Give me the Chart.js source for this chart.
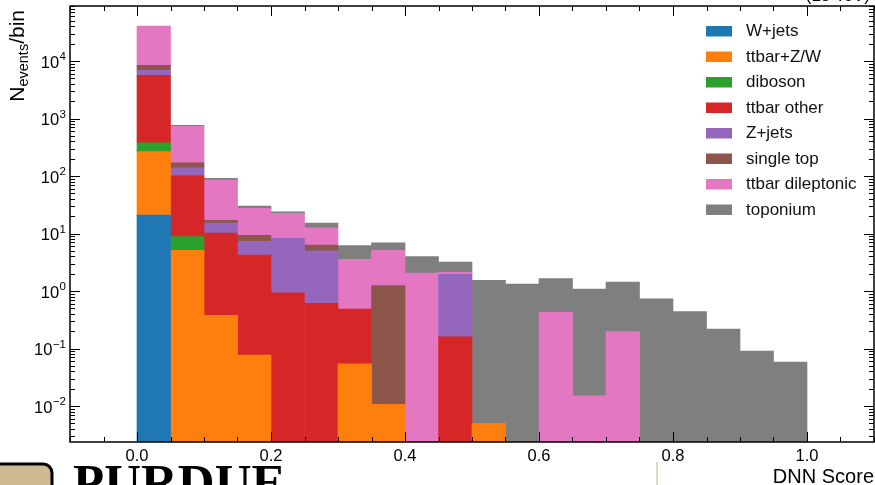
<!DOCTYPE html>
<html><head><meta charset="utf-8">
<script src="https://cdn.jsdelivr.net/npm/chart.js@4/dist/chart.umd.min.js"></script>
<style>html,body{margin:0;padding:0;background:#fff;}#wrap{width:875px;height:485px;position:relative;}</style>
</head><body><div id="wrap"><canvas id="c" width="875" height="485"></canvas></div>
<script>
// ---- data (events per bin, per sample; stacked in this order) ----
const binCenters = [0.025,0.075,0.125,0.175,0.225,0.275,0.325,0.375,0.425,0.475,0.525,0.575,0.625,0.675,0.725,0.775,0.825,0.875,0.925,0.975];
const sampleNames = ['W+jets','ttbar+Z/W','diboson','ttbar other','Z+jets','single top','ttbar dileptonic','toponium'];
const sampleColors = ['#1f77b4','#ff7f0e','#2ca02c','#d62728','#9467bd','#8c564b','#e377c2','#7f7f7f'];
const wJets      = [21,0,0,0,0,0,0,0,0,0,0,0,0,0,0,0,0,0,0,0];
const ttbarZW    = [244,5.1,0.378,0.077,0,0,0.054,0.0107,0,0,0.005,0,0,0,0,0,0,0,0,0];
const diboson    = [114,3.7,0,0,0,0,0,0,0,0,0,0,0,0,0,0,0,0,0,0];
const ttbarOther = [5260,92,9.8,4.15,0.93,0.61,0.43,0,0,0.16,0,0,0,0,0,0,0,0,0,0];
const zJets      = [1250,38,5.0,3.1,7.3,4.4,0,0,0,1.79,0,0,0,0,0,0,0,0,0,0];
const singleTop  = [1520,31,1.8,2.0,0,1.3,0,1.23,0,0,0,0,0,0,0,0,0,0,0,0];
const ttbarDilep = [32200,561,68,18.1,14.2,6.3,3.07,3.86,2.06,0.16,0,0,0.427,0.0151,0.196,0,0,0,0,0];
const toponium   = [0,31,6,2.7,1.3,2.6,2.6,1.8,1.9,1.08,1.53,1.32,1.21,1.065,1.23,0.734,0.437,0.218,0.0905,0.058];
const xTickLabels = ['0.0','0.2','0.4','0.6','0.8','1.0'];
const yTickExponents = [-2,-1,0,1,2,3,4];
const xAxisTitle = 'DNN Score';

const sampleValues = [wJets, ttbarZW, diboson, ttbarOther, zJets, singleTop, ttbarDilep, toponium];
const datasets = sampleValues.map((arr, k) => ({
  label: sampleNames[k],
  backgroundColor: sampleColors[k],
  borderWidth: 0,
  data: binCenters.map((x, i) => ({x: x, y: arr[i] > 0 ? arr[i] : null}))
}));

const FONT = '"Liberation Sans", Arial, Helvetica, sans-serif';

const decorPlugin = {
  id: 'decor',
  beforeDraw(chart) {
    const ctx = chart.ctx;
    ctx.save(); ctx.fillStyle = '#fff'; ctx.fillRect(0, 0, chart.width, chart.height); ctx.restore();
  },
  afterDraw(chart) {
    const ctx = chart.ctx, a = chart.chartArea, xs = chart.scales.x, ys = chart.scales.y;
    ctx.save();
    // frame
    ctx.strokeStyle = '#000'; ctx.lineWidth = 1.5;
    ctx.strokeRect(a.left, a.top, a.right - a.left, a.bottom - a.top);
    // x ticks (inward, top & bottom)
    ctx.lineWidth = 1;
    for (let i = -2; i <= 22; i++) {
      const v = i * 0.05;
      if (v < xs.min - 1e-9 || v > xs.max + 1e-9) continue;
      const px = Math.round(xs.getPixelForValue(v)) + 0.5;
      const len = (i % 4 === 0) ? 10 : 5;
      ctx.beginPath();
      ctx.moveTo(px, a.bottom); ctx.lineTo(px, a.bottom - len);
      ctx.moveTo(px, a.top); ctx.lineTo(px, a.top + len);
      ctx.stroke();
    }
    // y ticks (inward, left & right)
    for (let e = -3; e <= 5; e++) {
      for (let m = 1; m <= 9; m++) {
        const v = m * Math.pow(10, e);
        if (v < ys.min || v > ys.max) continue;
        const py = Math.round(ys.getPixelForValue(v)) + 0.5;
        const len = m === 1 ? 10 : 5;
        ctx.beginPath();
        ctx.moveTo(a.left, py); ctx.lineTo(a.left + len, py);
        ctx.moveTo(a.right, py); ctx.lineTo(a.right - len, py);
        ctx.stroke();
      }
    }
    // y tick labels 10^n
    ctx.fillStyle = '#000';
    yTickExponents.forEach(e => {
      const py = ys.getPixelForValue(Math.pow(10, e));
      const exp = e < 0 ? '\u2212' + (-e) : String(e);
      ctx.font = '11.5px ' + FONT;
      const we = ctx.measureText(exp).width;
      ctx.font = '16.5px ' + FONT;
      const wb = ctx.measureText('10').width;
      const right = a.left - 4;
      ctx.textBaseline = 'alphabetic'; ctx.textAlign = 'left';
      ctx.fillText('10', right - we - wb - 0.5, py + 6.5);
      ctx.font = '11.5px ' + FONT;
      ctx.fillText(exp, right - we, py - 1);
    });
    // y axis title  N_events/bin  (rotated, aligned to top)
    ctx.save();
    ctx.translate(23.5, 10);
    ctx.rotate(-Math.PI / 2);
    ctx.textAlign = 'left'; ctx.textBaseline = 'alphabetic';
    ctx.font = '21px ' + FONT; const w1 = ctx.measureText('N').width;
    ctx.font = '14.5px ' + FONT; const w2 = ctx.measureText('events').width;
    ctx.font = '21px ' + FONT; const w3 = ctx.measureText('/bin').width;
    let x0 = -(w1 + w2 + w3);
    ctx.font = '21px ' + FONT; ctx.fillText('N', x0, 0);
    ctx.font = '14.5px ' + FONT; ctx.fillText('events', x0 + w1, 4);
    ctx.font = '21px ' + FONT; ctx.fillText('/bin', x0 + w1 + w2, 0);
    ctx.restore();
    // x axis title
    ctx.font = '20px ' + FONT; ctx.textAlign = 'right'; ctx.textBaseline = 'alphabetic';
    ctx.fillText(xAxisTitle, 874, 483);
    // legend
    chart.data.datasets.forEach((ds, k) => {
      const cy = 31 + k * 25.5;
      ctx.fillStyle = ds.backgroundColor;
      ctx.fillRect(706, cy - 5, 26, 10.5);
      ctx.fillStyle = '#111';
      ctx.font = '17px ' + FONT; ctx.textAlign = 'left'; ctx.textBaseline = 'middle';
      ctx.fillText(ds.label, 746, cy + 0.5);
    });
    // clipped header text at very top
    ctx.fillStyle = '#000'; ctx.font = '17px ' + FONT; ctx.textAlign = 'right'; ctx.textBaseline = 'alphabetic';
    ctx.fillText('(13 TeV)', 870, 0.5);
    // Purdue footer
    ctx.fillStyle = '#CFB991'; ctx.strokeStyle = '#000'; ctx.lineWidth = 3;
    ctx.beginPath(); ctx.roundRect(-12, 464, 64, 40, 9); ctx.fill(); ctx.stroke();
    ctx.fillStyle = '#000';
    ctx.font = 'bold 51px "Liberation Serif", "Times New Roman", serif'; ctx.textAlign = 'left';
    ctx.fillText('PURDUE', 73, 499);
    ctx.fillStyle = '#CFB991';
    ctx.fillRect(656.5, 462, 1.2, 23);
    ctx.restore();
  }
};

new Chart(document.getElementById('c'), {
  type: 'bar',
  data: { datasets: datasets },
  options: {
    responsive: false, animation: false, devicePixelRatio: 1,
    layout: { padding: { top: 6, right: 1, left: 0, bottom: 0 } },
    plugins: { legend: { display: false }, tooltip: { enabled: false } },
    datasets: { bar: { barPercentage: 1, categoryPercentage: 1, borderWidth: 0 } },
    scales: {
      x: {
        type: 'linear', min: -0.1, max: 1.1, stacked: true, offset: false,
        grid: { display: false }, border: { display: false },
        afterBuildTicks: s => { s.ticks = xTickLabels.map(t => ({ value: parseFloat(t) })); },
        ticks: { font: { size: 16.5, family: FONT }, color: '#000', padding: -3, maxRotation: 0, autoSkip: false,
                 callback: v => Number(v).toFixed(1) },
        afterFit: s => { s.height = 43; }
      },
      y: {
        type: 'logarithmic', min: 0.002366, max: 90500, stacked: true,
        grid: { display: false }, border: { display: false },
        ticks: { display: false },
        afterFit: s => { s.width = 70; }
      }
    }
  },
  plugins: [decorPlugin]
});
</script>
</body></html>
